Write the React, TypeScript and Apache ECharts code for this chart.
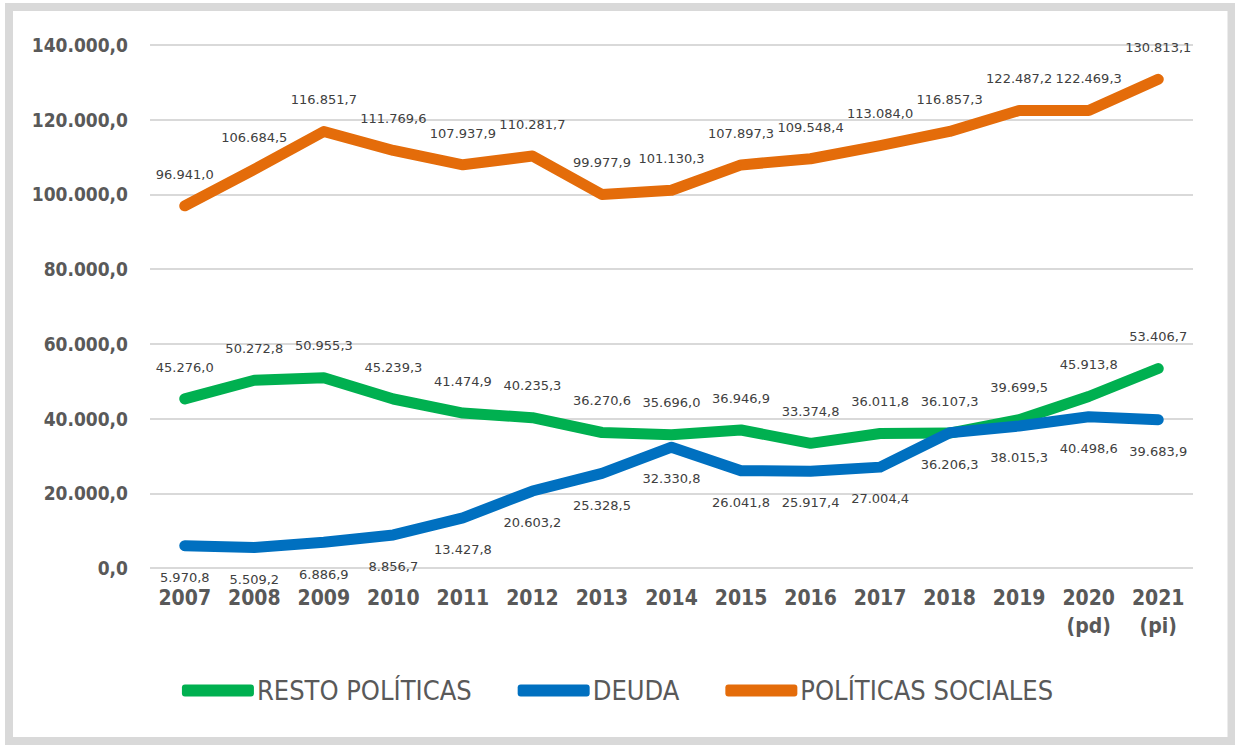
import React, { useEffect, useRef } from "react";
import * as echarts from "echarts";

const years = ["2007", "2008", "2009", "2010", "2011", "2012", "2013", "2014", "2015", "2016", "2017", "2018", "2019", "2020\n(pd)", "2021\n(pi)"];
const resto = [45276.0, 50272.8, 50955.3, 45239.3, 41474.9, 40235.3, 36270.6, 35696.0, 36946.9, 33374.8, 36011.8, 36107.3, 39699.5, 45913.8, 53406.7];
const deuda = [5970.8, 5509.2, 6886.9, 8856.7, 13427.8, 20603.2, 25328.5, 32330.8, 26041.8, 25917.4, 27004.4, 36206.3, 38015.3, 40498.6, 39683.9];
const sociales = [96941.0, 106684.5, 116851.7, 111769.6, 107937.9, 110281.7, 99977.9, 101130.3, 107897.3, 109548.4, 113084.0, 116857.3, 122487.2, 122469.3, 130813.1];
const seriesNames = ["RESTO POLÍTICAS", "DEUDA", "POLÍTICAS SOCIALES"];
const colors = ["#00b050", "#0070c0", "#e46c0a"];

function fmt(v: number): string {
  const parts = v.toFixed(1).split(".");
  const intPart = parts[0].replace(/\B(?=(\d{3})+(?!\d))/g, ".");
  return intPart + "," + parts[1];
}

const narrow = "'DejaVu Sans Condensed', 'DejaVu Sans', sans-serif";

export default function App() {
  const ref = useRef<HTMLDivElement>(null);
  useEffect(() => {
    if (!ref.current) return;
    const chart = echarts.init(ref.current, undefined, { renderer: "svg" });
    const labelStyle = {
      show: true,
      fontFamily: "DejaVu Sans",
      fontSize: 13,
      color: "#404040",
      distance: 25,
      formatter: (p: any) => fmt(p.value),
    };
    const mk = (name: string, data: number[], color: string, pos: string) => ({
      name,
      type: "line",
      data,
      symbol: "circle",
      symbolSize: 0.5,
      showSymbol: true,
      lineStyle: { width: 11, color, cap: "round", join: "round" },
      itemStyle: { color },
      label: { ...labelStyle, position: pos },
      z: 3,
    });
    chart.setOption({
      animation: false,
      backgroundColor: "#ffffff",
      grid: { left: 150, right: 42, top: 45, bottom: 177, containLabel: false },
      xAxis: {
        type: "category",
        data: years,
        boundaryGap: true,
        axisLine: { show: false },
        axisTick: { show: false },
        axisLabel: {
          fontFamily: narrow,
          fontWeight: "bold",
          fontSize: 21,
          color: "#595959",
          margin: 16,
          lineHeight: 28,
          interval: 0,
        },
      },
      yAxis: {
        type: "value",
        min: 0,
        max: 140000,
        interval: 20000,
        axisLine: { show: false },
        axisTick: { show: false },
        splitLine: { lineStyle: { color: "#d9d9d9", width: 2 } },
        axisLabel: {
          fontFamily: narrow,
          fontWeight: "bold",
          fontSize: 19,
          color: "#595959",
          margin: 22,
          formatter: (v: number) => fmt(v),
        },
      },
      legend: {
        bottom: 36,
        left: "center",
        itemWidth: 72,
        itemHeight: 12,
        itemGap: 46,
        icon: "roundRect",
        textStyle: {
          fontFamily: narrow,
          fontSize: 27,
          color: "#595959",
          padding: [0, 0, 0, -2],
        },
        data: seriesNames,
      },
      graphic: [
        {
          type: "rect",
          shape: { x: 9, y: 7, width: 1222.5, height: 734 },
          style: { fill: "none", stroke: "#d9d9d9", lineWidth: 8 },
          silent: true,
        },
      ],
      series: [
        mk(seriesNames[0], resto, colors[0], "top"),
        mk(seriesNames[1], deuda, colors[1], "bottom"),
        mk(seriesNames[2], sociales, colors[2], "top"),
      ],
    });
    return () => chart.dispose();
  }, []);
  return (
    <div
      ref={ref}
      style={{ position: "absolute", left: 0, top: 0, width: 1235, height: 745 }}
    />
  );
}
